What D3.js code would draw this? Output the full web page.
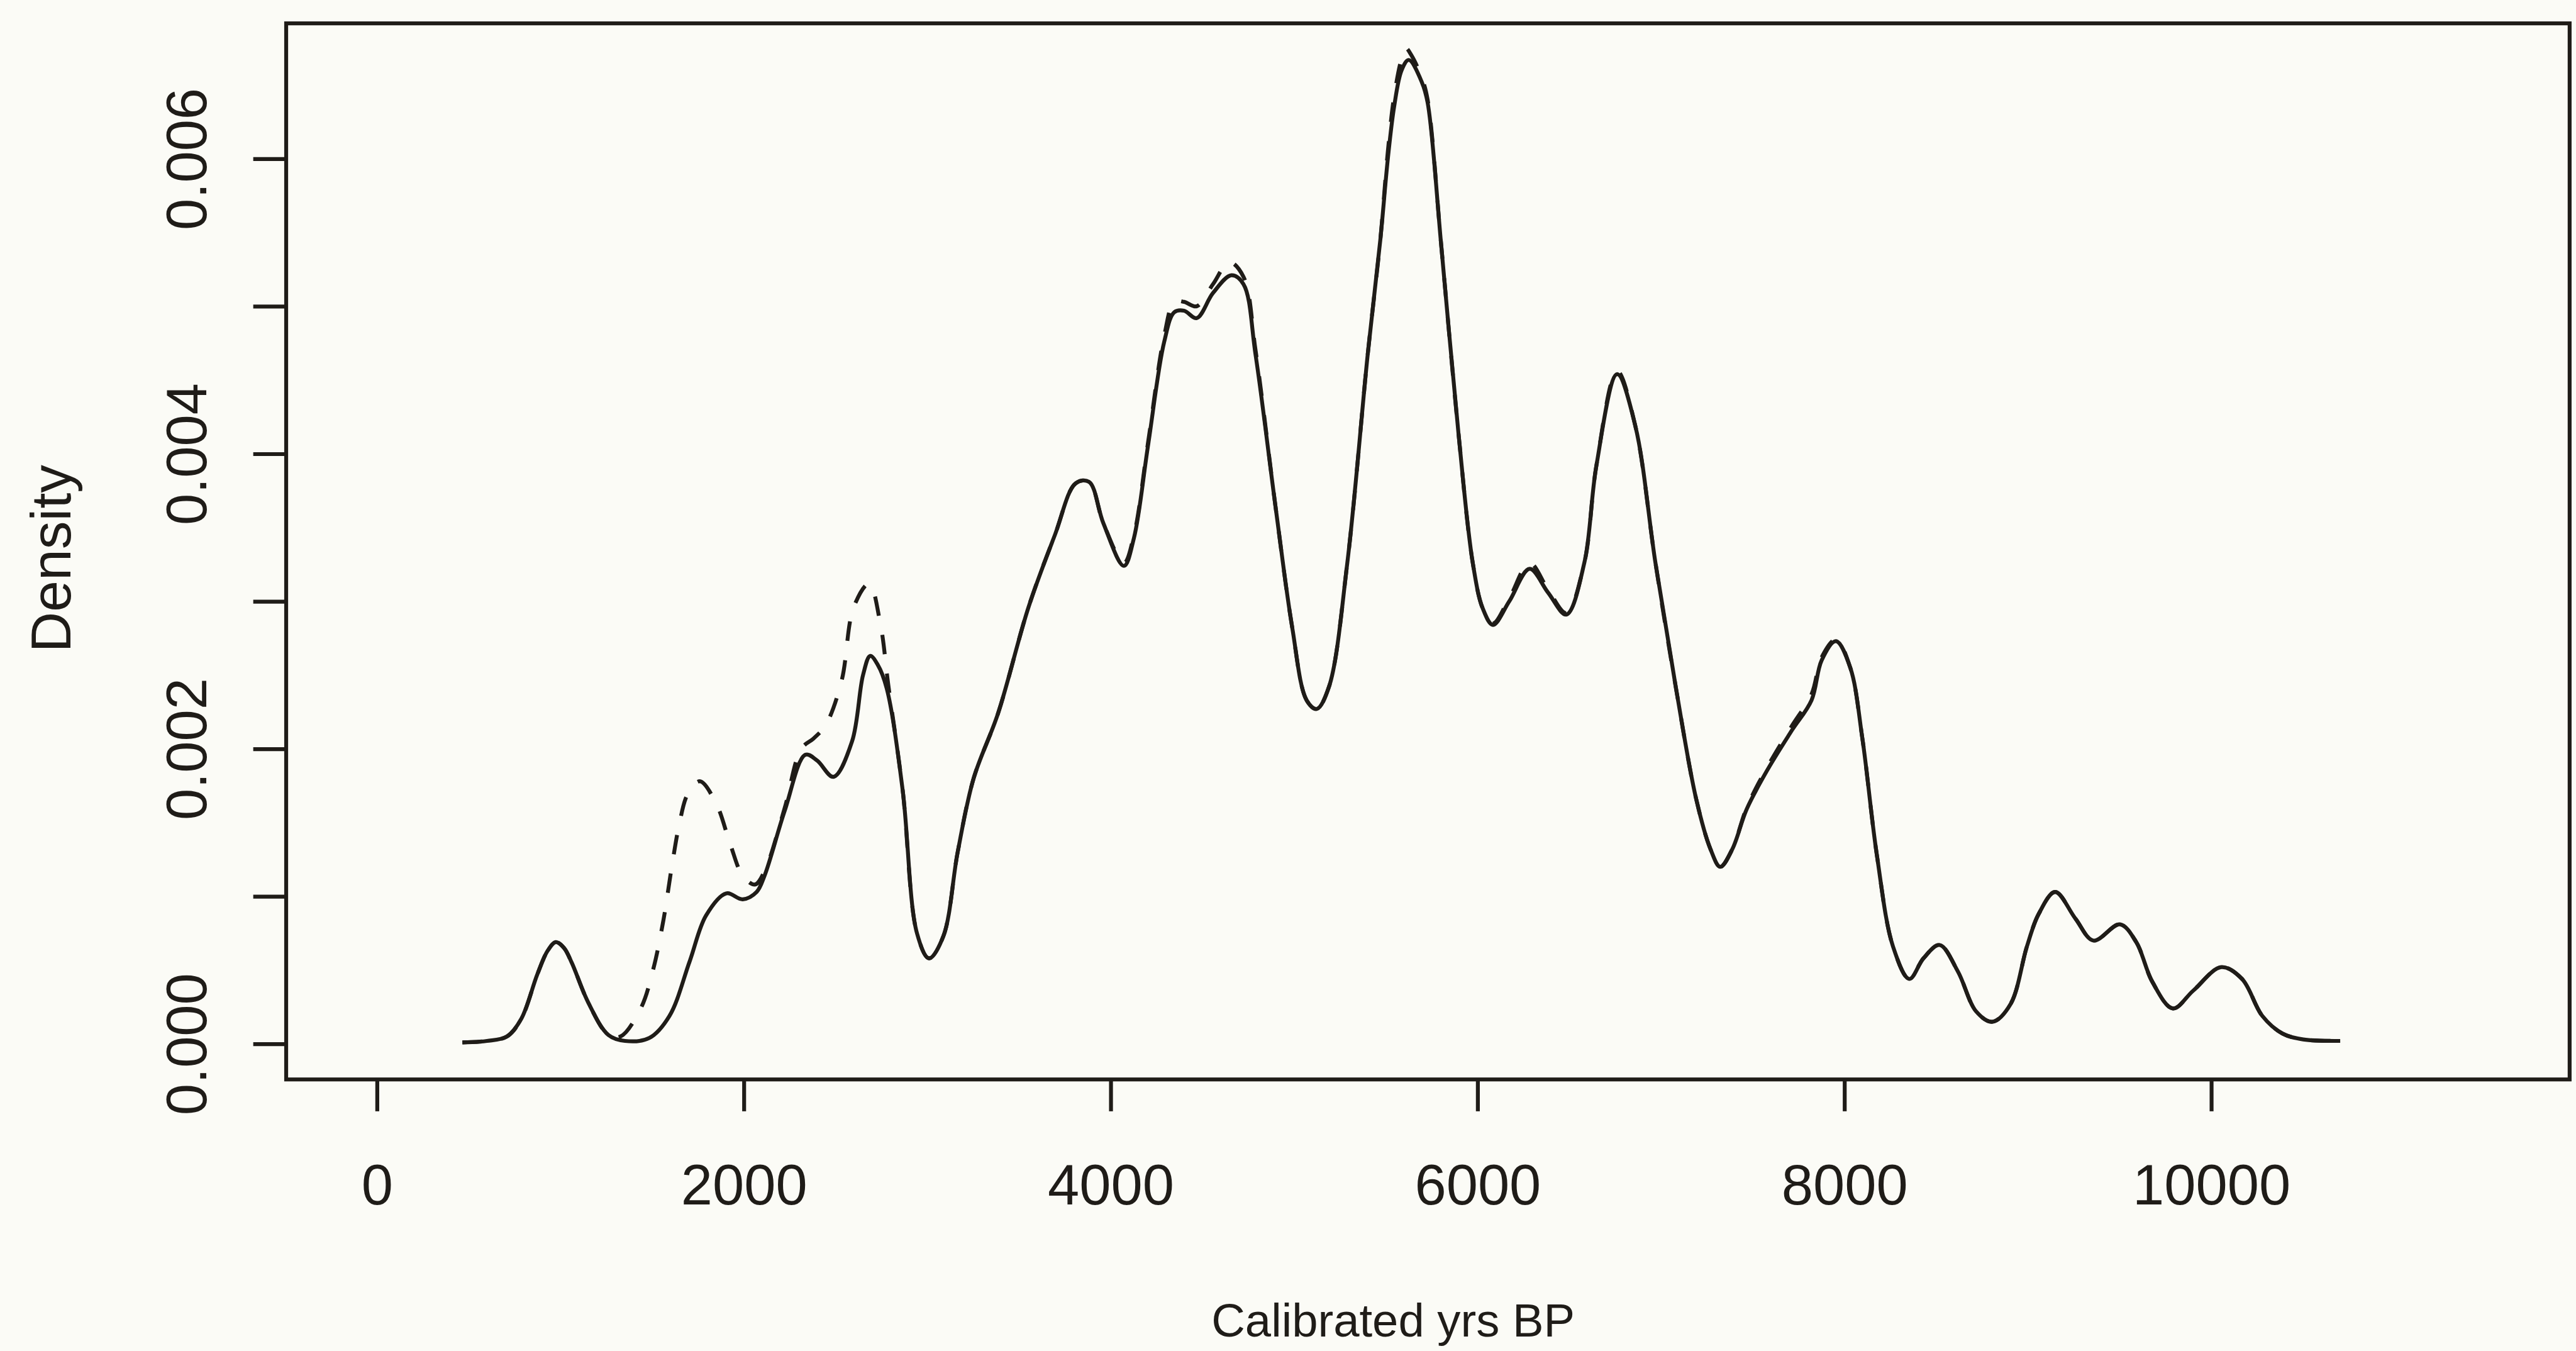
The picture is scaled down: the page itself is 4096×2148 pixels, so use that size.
<!DOCTYPE html>
<html>
<head>
<meta charset="utf-8">
<script src="https://cdn.jsdelivr.net/npm/d3@7"></script>
<style>
  html, body { margin: 0; padding: 0; background: #fbfbf6; }
  svg { display: block; }
</style>
</head>
<body>
<svg id="chart" width="4096" height="2148"></svg>
<script>
// ---------------- data ----------------
const xTickValues = [0, 2000, 4000, 6000, 8000, 10000];
const xTickLabels = ["0", "2000", "4000", "6000", "8000", "10000"];
const yTickValues = [0, 0.001, 0.002, 0.003, 0.004, 0.005, 0.006];
const yTickLabels = ["0.000", "", "0.002", "", "0.004", "", "0.006"];
const xTitle = "Calibrated yrs BP";
const yTitle = "Density";

// solid curve
const solidYears = [466,600,709,787,874,930,975,1020,1062,1152,1262,1352,1485,1595,1705,1794,1904,1994,2070,2113,
  2223,2336,2400,2489,2590,2650,2689,2730,2779,2866,2944,3010,3088,3166,3253,3386,3552,3696,3809,3882,
  3960,4072,4127,4203,4292,4347,4400,4469,4558,4658,4724,4790,4902,4990,5068,5123,5190,5290,5401,5470,
  5511,5545,5586,5625,5696,5728,5803,5896,5974,6029,6084,6173,6284,6384,6484,6582,6648,6761,6860,6970,
  7082,7192,7270,7323,7389,7467,7577,7711,7821,7876,7954,8032,8098,8177,8265,8354,8431,8519,8619,8718,
  8807,8906,8995,9059,9149,9259,9358,9502,9591,9679,9791,9901,10055,10168,10278,10388,10501,10703];
const solidDensity = [0.00001,0.00002,0.00005,0.00017,0.00047,0.00063,0.00069,0.00065,0.00055,0.00028,0.00006,0.00002,0.00004,0.00019,0.00056,0.00087,0.00102,0.00098,0.00103,0.00114,
  0.00158,0.00196,0.00192,0.00181,0.00205,0.00250,0.00263,0.00257,0.00241,0.00172,0.00075,0.00058,0.00073,0.00130,0.00180,0.00224,0.00296,0.00345,0.00380,0.00381,
  0.00353,0.00324,0.00343,0.00405,0.00476,0.00496,0.00497,0.00492,0.00509,0.00521,0.00515,0.00467,0.00361,0.00282,0.00233,0.00227,0.00242,0.00326,0.00467,0.00545,
  0.00600,0.00635,0.00660,0.00667,0.00652,0.00638,0.00540,0.00414,0.00326,0.00295,0.00284,0.00300,0.00322,0.00306,0.00291,0.00326,0.00392,0.00454,0.00419,0.00326,
  0.00241,0.00166,0.00132,0.00120,0.00132,0.00159,0.00185,0.00212,0.00233,0.00260,0.00273,0.00255,0.00207,0.00128,0.00066,0.00044,0.00058,0.00067,0.00049,0.00022,
  0.00015,0.00027,0.00066,0.00088,0.00103,0.00085,0.00070,0.00081,0.00069,0.00042,0.00024,0.00036,0.00052,0.00044,0.00019,0.00007,0.00003,0.00002];

// dashed curve
const dashedYears = [466,600,709,787,874,930,975,1020,1062,1152,1262,
  1328,1438,1505,1562,1606,1650,1693,1760,1849,1927,1994,2061,
  2113,2223,2313,2380,2446,2533,2599,2683,2744,2788,
  2866,2944,3010,3088,3166,3253,3386,3552,3696,3809,
  3882,3960,4072,4127,4203,4292,4347,4400,4469,4558,
  4646,4724,4790,4902,4990,5068,5123,5190,5290,5401,
  5470,5511,5545,5586,5609,5640,5696,5728,5803,5896,
  5974,6029,6084,6173,6284,6384,6484,6582,6648,6761,
  6860,6970,7082,7192,7270,7323,7389,7467,7577,7711,
  7821,7876,7954,8032,8098,8177,8265,8354,8431,8519,
  8619,8718,8807,8906,8995,9059,9149,9259,9358,9502,
  9591,9679,9791,9901,10055,10168,10278,10388,10501,10703];
const dashedDensity = [0.00001,0.00002,0.00005,0.00017,0.00047,0.00063,0.00069,0.00065,0.00055,0.00028,0.00006,
  0.00005,0.00024,0.00050,0.00084,0.00119,0.00150,0.00169,0.00178,0.00163,0.00135,0.00114,0.00108,
  0.00117,0.00160,0.00200,0.00207,0.00216,0.00246,0.00296,0.00312,0.00285,0.00243,
  0.00172,0.00075,0.00058,0.00073,0.00130,0.00180,0.00224,0.00296,0.00345,0.00380,
  0.00381,0.00353,0.00326,0.00345,0.00407,0.00480,0.00503,0.00503,0.00500,0.00515,
  0.00530,0.00520,0.00470,0.00361,0.00282,0.00233,0.00227,0.00242,0.00326,0.00467,
  0.00545,0.00605,0.00642,0.00668,0.00675,0.00670,0.00655,0.00640,0.00540,0.00414,
  0.00326,0.00295,0.00285,0.00302,0.00326,0.00308,0.00292,0.00326,0.00392,0.00456,
  0.00419,0.00326,0.00241,0.00166,0.00132,0.00120,0.00132,0.00160,0.00187,0.00215,
  0.00237,0.00262,0.00274,0.00255,0.00207,0.00128,0.00066,0.00044,0.00058,0.00067,
  0.00049,0.00022,0.00015,0.00027,0.00066,0.00088,0.00103,0.00085,0.00070,0.00081,
  0.00069,0.00042,0.00024,0.00036,0.00052,0.00044,0.00019,0.00007,0.00003,0.00002];

// ---------------- layout ----------------
const s = 4096 / 4852;               // reference -> window scale
const W = 4096, H = 2148;
const frame = { left: 539 * s, right: 4840 * s, top: 44 * s, bottom: 2033 * s };
const ink = "#1f1c18";
const lw = 6.2;
const font = "'Liberation Sans', Arial, Helvetica, sans-serif";
const fsTick = 107 * s;
const fsXTitle = 88 * s;
const fsYTitle = 106 * s;

const svg = d3.select("#chart").attr("width", W).attr("height", H);
svg.append("rect").attr("x", 0).attr("y", 0).attr("width", W).attr("height", H).attr("fill", "#fbfbf6");

const x = d3.scaleLinear().domain([0, 10000]).range([710 * s, 4165 * s]);
const y = d3.scaleLinear().domain([0, 0.006]).range([1966 * s, 299 * s]);

const line = d3.line()
  .x(d => x(d[0]))
  .y(d => y(d[1]))
  .curve(d3.curveCatmullRom.alpha(0.5));

// dashed curve
svg.append("path")
  .datum(d3.zip(dashedYears, dashedDensity))
  .attr("d", line)
  .attr("fill", "none")
  .attr("stroke", ink)
  .attr("stroke-width", lw)
  .attr("stroke-dasharray", "31,31")
  .attr("stroke-linejoin", "round");

// solid curve
svg.append("path")
  .datum(d3.zip(solidYears, solidDensity))
  .attr("d", line)
  .attr("fill", "none")
  .attr("stroke", ink)
  .attr("stroke-width", lw)
  .attr("stroke-linejoin", "round");

// frame
svg.append("rect")
  .attr("x", frame.left).attr("y", frame.top)
  .attr("width", frame.right - frame.left).attr("height", frame.bottom - frame.top)
  .attr("fill", "none").attr("stroke", ink).attr("stroke-width", lw);

// x axis
const gx = svg.append("g")
  .attr("transform", `translate(0,${frame.bottom})`)
  .call(d3.axisBottom(x).tickValues(xTickValues).tickFormat((d, i) => xTickLabels[i]).tickSize(60 * s));
gx.select(".domain").remove();
gx.attr("font-family", font).attr("font-size", fsTick);
gx.selectAll(".tick line").attr("stroke", ink).attr("stroke-width", lw);
gx.selectAll(".tick text").attr("fill", ink).attr("dy", null).attr("y", 236 * s);

// y axis
const gy = svg.append("g")
  .attr("transform", `translate(${frame.left},0)`)
  .call(d3.axisLeft(y).tickValues(yTickValues).tickFormat((d, i) => yTickLabels[i]).tickSize(62 * s));
gy.select(".domain").remove();
gy.attr("font-family", font).attr("font-size", fsTick);
gy.selectAll(".tick line").attr("stroke", ink).attr("stroke-width", lw);
gy.selectAll(".tick text")
  .attr("fill", ink)
  .attr("x", null).attr("dy", null)
  .attr("text-anchor", "middle")
  .attr("transform", `translate(${-151 * s},0) rotate(-90)`);

// titles
svg.append("text")
  .attr("x", 2624 * s).attr("y", 2517 * s)
  .attr("text-anchor", "middle")
  .attr("font-family", font).attr("font-size", fsXTitle).attr("fill", ink)
  .text(xTitle);

svg.append("text")
  .attr("transform", `translate(${133 * s},${1052 * s}) rotate(-90)`)
  .attr("text-anchor", "middle")
  .attr("font-family", font).attr("font-size", fsYTitle).attr("fill", ink)
  .text(yTitle);
</script>
</body>
</html>
